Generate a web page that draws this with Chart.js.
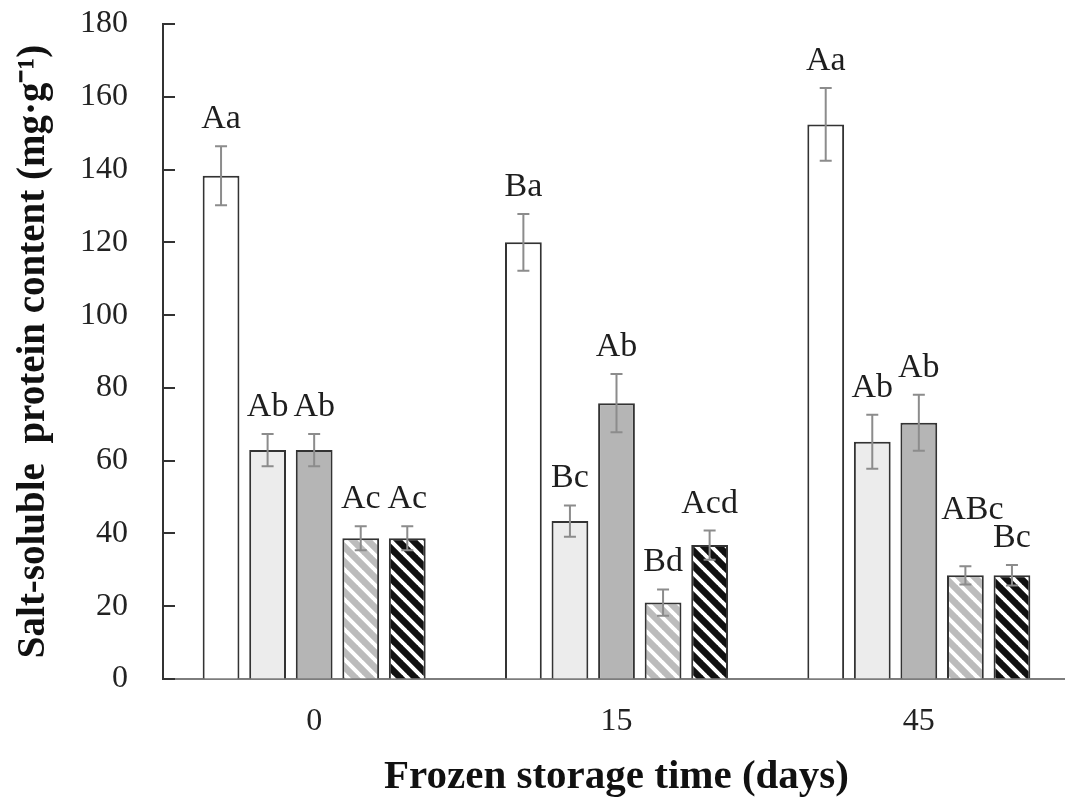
<!DOCTYPE html>
<html>
<head>
<meta charset="utf-8">
<title>Salt-soluble protein content</title>
<script src="https://cdn.jsdelivr.net/npm/chart.js"></script>
<style>
	html, body { margin: 0; padding: 0; background: #fff; overflow: hidden; }
	#wrap { width: 1072px; height: 805px; }
</style>
</head>
<body>
<div id="wrap"><canvas id="bar-chart-protein" width="1072" height="805"></canvas></div>
<script>
"use strict";

const categories = ['0', '15', '45'];
const yTicks = [0, 20, 40, 60, 80, 100, 120, 140, 160, 180];

const seriesA = [138.3, 120.0, 152.4];
const seriesB = [62.9, 43.4, 65.2];
const seriesC = [62.9, 75.8, 70.4];
const seriesD = [38.7, 21.0, 28.5];
const seriesE = [38.7, 36.8, 28.5];

const errorA = [8.1, 7.8, 10.0];
const errorB = [4.4, 4.3, 7.4];
const errorC = [4.4, 8.0, 7.7];
const errorD = [3.3, 3.6, 2.5];
const errorE = [3.3, 4.0, 2.8];

const lettersA = ['Aa', 'Ba', 'Aa'];
const lettersB = ['Ab', 'Bc', 'Ab'];
const lettersC = ['Ab', 'Ab', 'Ab'];
const lettersD = ['Ac', 'Bd', 'ABc'];
const lettersE = ['Ac', 'Acd', 'Bc'];

const SERIF = '"Liberation Serif", "Times New Roman", serif';

function hatch(bg, fg) {
	const s = 15;
	const c = document.createElement('canvas');
	c.width = s;
	c.height = s;
	const g = c.getContext('2d');
	g.fillStyle = bg;
	g.fillRect(0, 0, s, s);
	g.strokeStyle = fg;
	g.lineWidth = 4;
	g.beginPath();
	for (const off of [-s, 0, s]) {
		g.moveTo(off - 1, -1);
		g.lineTo(off + s + 1, s + 1);
	}
	g.stroke();
	return g.createPattern(c, 'repeat');
}

// error bars + significance letters
const errorBarPlugin = {
	id: 'errorBars',
	afterDatasetsDraw(chart) {
		const ctx = chart.ctx;
		const y = chart.scales.y;
		ctx.save();
		ctx.font = '34px ' + SERIF;
		ctx.textAlign = 'center';
		ctx.textBaseline = 'alphabetic';
		const labels = [];
		chart.data.datasets.forEach((ds, di) => {
			const meta = chart.getDatasetMeta(di);
			meta.data.forEach((bar, i) => {
				const v = ds.data[i];
				const e = ds.errors[i];
				const top = y.getPixelForValue(v + e);
				const bot = y.getPixelForValue(v - e);
				ctx.strokeStyle = '#8c8c8c';
				ctx.lineWidth = 2;
				ctx.beginPath();
				ctx.moveTo(bar.x, top);
				ctx.lineTo(bar.x, bot);
				ctx.moveTo(bar.x - 6, top);
				ctx.lineTo(bar.x + 6, top);
				ctx.moveTo(bar.x - 6, bot);
				ctx.lineTo(bar.x + 6, bot);
				ctx.stroke();
				const w = ctx.measureText(ds.letters[i]).width;
				labels.push({ cat: i, text: ds.letters[i], x: bar.x, y: top - 18, w: w });
			});
		});
		// push a label up when it runs into its right neighbour
		for (const a of labels) {
			const b = labels.find(l => l.cat === a.cat && l !== a && l.x > a.x && l.x - a.x < 60);
			if (b && a.x + a.w / 2 > b.x - b.w / 2 - 3 && Math.abs(a.y - b.y) < 24) {
				a.y = b.y - 28;
				a.x += 7;
			}
		}
		ctx.fillStyle = '#1e1e1e';
		labels.forEach(l => ctx.fillText(l.text, l.x, l.y));
		ctx.restore();
	},
	afterDraw(chart) {
		// tick marks point into the plot
		const ctx = chart.ctx;
		const y = chart.scales.y;
		const left = chart.chartArea.left;
		ctx.save();
		ctx.strokeStyle = '#333';
		ctx.lineWidth = 2;
		ctx.beginPath();
		yTicks.forEach(t => {
			const py = Math.round(y.getPixelForValue(t));
			ctx.moveTo(left, py);
			ctx.lineTo(left + 12, py);
		});
		ctx.stroke();
		ctx.restore();
	}
};

function displayProteinChart() {
	const ctx = document.querySelector('#bar-chart-protein').getContext('2d');
	const make = (data, errors, letters, fill) => ({
		data: data,
		errors: errors,
		letters: letters,
		backgroundColor: fill,
		borderColor: '#333',
		borderWidth: 2,
		barPercentage: 0.79,
		categoryPercentage: 0.77
	});
	new Chart(ctx, {
		type: 'bar',
		data: {
			labels: categories,
			datasets: [
				make(seriesA, errorA, lettersA, '#ffffff'),
				make(seriesB, errorB, lettersB, '#ececec'),
				make(seriesC, errorC, lettersC, '#b5b5b5'),
				make(seriesD, errorD, lettersD, hatch('#bcbcbc', '#ffffff')),
				make(seriesE, errorE, lettersE, hatch('#111111', '#ffffff'))
			]
		},
		options: {
			responsive: false,
			animation: false,
			devicePixelRatio: 1,
			layout: { padding: { top: 24, right: 2, left: 0, bottom: 0 } },
			plugins: {
				legend: { display: false },
				tooltip: { enabled: false }
			},
			scales: {
				x: {
					z: 1,
					afterFit(scale) {
						scale.height = 126;
						scale.paddingLeft = 0;
						scale.paddingRight = 0;
					},
					grid: { display: false },
					border: { color: '#7d7d7d', width: 2 },
					ticks: {
						color: '#222',
						padding: 15,
						font: { family: SERIF, size: 32 }
					},
					title: {
						display: true,
						text: 'Frozen storage time (days)',
						color: '#111',
						padding: { top: 0, bottom: 3 },
						font: { family: SERIF, size: 41, weight: 'bold' }
					}
				},
				y: {
					z: 1,
					min: 0,
					max: 180,
					afterBuildTicks(scale) {
						scale.ticks = yTicks.map(v => ({ value: v }));
					},
					afterFit(scale) {
						scale.width = 163;
						scale.paddingTop = 0;
						scale.paddingBottom = 0;
					},
					grid: { drawOnChartArea: false, drawTicks: false },
					border: { color: '#333', width: 2 },
					ticks: {
						color: '#222',
						padding: 35,
						font: { family: SERIF, size: 32 }
					},
					title: {
						display: true,
						text: 'Salt-soluble  protein content (mg·g⁻¹)',
						color: '#111',
						padding: { top: 11, bottom: 0 },
						font: { family: SERIF, size: 39, weight: 'bold' }
					}
				}
			}
		},
		plugins: [errorBarPlugin]
	});
}

displayProteinChart();
</script>
</body>
</html>
